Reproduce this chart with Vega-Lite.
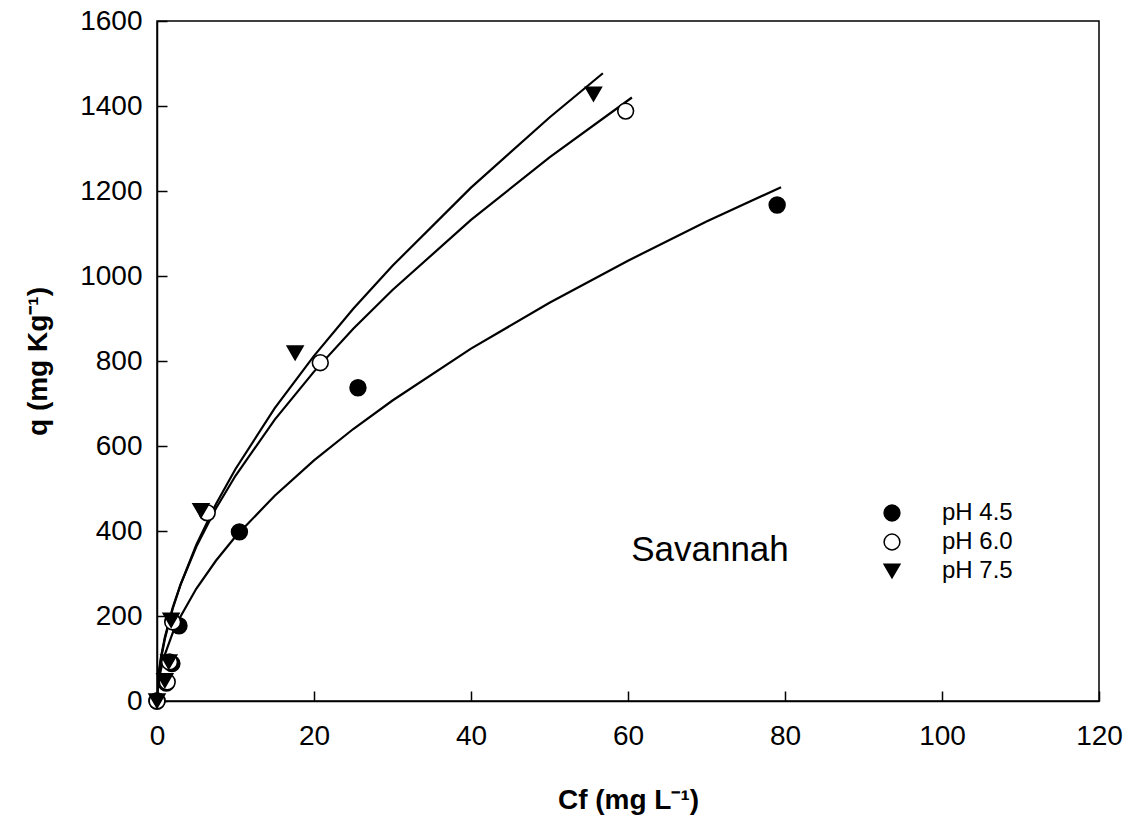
{
  "$schema": "https://vega.github.io/schema/vega-lite/v6.json",
  "width": 942,
  "height": 680,
  "autosize": "none",
  "padding": {"left": 157, "top": 21, "right": 30, "bottom": 122},
  "background": "white",
  "datasets": {
    "points": [
      {"C": 0, "q": 0, "pH": "pH 4.5"},
      {"C": 1.2, "q": 42, "pH": "pH 4.5"},
      {"C": 1.9, "q": 88, "pH": "pH 4.5"},
      {"C": 2.8, "q": 177, "pH": "pH 4.5"},
      {"C": 10.5, "q": 398, "pH": "pH 4.5"},
      {"C": 25.6, "q": 737, "pH": "pH 4.5"},
      {"C": 79.0, "q": 1167, "pH": "pH 4.5"},
      {"C": 0, "q": 0, "pH": "pH 6.0"},
      {"C": 1.3, "q": 45, "pH": "pH 6.0"},
      {"C": 1.6, "q": 92, "pH": "pH 6.0"},
      {"C": 2.0, "q": 186, "pH": "pH 6.0"},
      {"C": 6.4, "q": 443, "pH": "pH 6.0"},
      {"C": 20.8, "q": 796, "pH": "pH 6.0"},
      {"C": 59.7, "q": 1388, "pH": "pH 6.0"},
      {"C": 0, "q": 0, "pH": "pH 7.5"},
      {"C": 1.0, "q": 48, "pH": "pH 7.5"},
      {"C": 1.5, "q": 92, "pH": "pH 7.5"},
      {"C": 1.8, "q": 190, "pH": "pH 7.5"},
      {"C": 5.6, "q": 448, "pH": "pH 7.5"},
      {"C": 17.6, "q": 819, "pH": "pH 7.5"},
      {"C": 55.6, "q": 1428, "pH": "pH 7.5"}
    ],
    "curves": [
      {"C": 0, "q": 0, "pH": "pH 4.5"},
      {"C": 0.1, "q": 31, "pH": "pH 4.5"},
      {"C": 0.25, "q": 51, "pH": "pH 4.5"},
      {"C": 0.5, "q": 74, "pH": "pH 4.5"},
      {"C": 1, "q": 109, "pH": "pH 4.5"},
      {"C": 2, "q": 160, "pH": "pH 4.5"},
      {"C": 3, "q": 199, "pH": "pH 4.5"},
      {"C": 5, "q": 264, "pH": "pH 4.5"},
      {"C": 7.5, "q": 330, "pH": "pH 4.5"},
      {"C": 10, "q": 387, "pH": "pH 4.5"},
      {"C": 15, "q": 483, "pH": "pH 4.5"},
      {"C": 20, "q": 566, "pH": "pH 4.5"},
      {"C": 25, "q": 640, "pH": "pH 4.5"},
      {"C": 30, "q": 707, "pH": "pH 4.5"},
      {"C": 40, "q": 829, "pH": "pH 4.5"},
      {"C": 50, "q": 937, "pH": "pH 4.5"},
      {"C": 60, "q": 1036, "pH": "pH 4.5"},
      {"C": 70, "q": 1128, "pH": "pH 4.5"},
      {"C": 79.5, "q": 1209, "pH": "pH 4.5"},
      {"C": 0, "q": 0, "pH": "pH 6.0"},
      {"C": 0.1, "q": 43, "pH": "pH 6.0"},
      {"C": 0.25, "q": 70, "pH": "pH 6.0"},
      {"C": 0.5, "q": 103, "pH": "pH 6.0"},
      {"C": 1, "q": 150, "pH": "pH 6.0"},
      {"C": 2, "q": 220, "pH": "pH 6.0"},
      {"C": 3, "q": 274, "pH": "pH 6.0"},
      {"C": 5, "q": 363, "pH": "pH 6.0"},
      {"C": 7.5, "q": 453, "pH": "pH 6.0"},
      {"C": 10, "q": 530, "pH": "pH 6.0"},
      {"C": 15, "q": 662, "pH": "pH 6.0"},
      {"C": 20, "q": 775, "pH": "pH 6.0"},
      {"C": 25, "q": 876, "pH": "pH 6.0"},
      {"C": 30, "q": 967, "pH": "pH 6.0"},
      {"C": 40, "q": 1132, "pH": "pH 6.0"},
      {"C": 50, "q": 1279, "pH": "pH 6.0"},
      {"C": 60.5, "q": 1420, "pH": "pH 6.0"},
      {"C": 0, "q": 0, "pH": "pH 7.5"},
      {"C": 0.1, "q": 39, "pH": "pH 7.5"},
      {"C": 0.25, "q": 66, "pH": "pH 7.5"},
      {"C": 0.5, "q": 98, "pH": "pH 7.5"},
      {"C": 1, "q": 146, "pH": "pH 7.5"},
      {"C": 2, "q": 217, "pH": "pH 7.5"},
      {"C": 3, "q": 274, "pH": "pH 7.5"},
      {"C": 5, "q": 367, "pH": "pH 7.5"},
      {"C": 7.5, "q": 463, "pH": "pH 7.5"},
      {"C": 10, "q": 546, "pH": "pH 7.5"},
      {"C": 15, "q": 689, "pH": "pH 7.5"},
      {"C": 20, "q": 812, "pH": "pH 7.5"},
      {"C": 25, "q": 923, "pH": "pH 7.5"},
      {"C": 30, "q": 1024, "pH": "pH 7.5"},
      {"C": 40, "q": 1208, "pH": "pH 7.5"},
      {"C": 50, "q": 1373, "pH": "pH 7.5"},
      {"C": 56.8, "q": 1477, "pH": "pH 7.5"}
    ],
    "labels": [
      {"C": 60.4, "q": 355, "label": "Savannah"}
    ]
  },
  "encoding": {
    "x": {
      "field": "C",
      "type": "quantitative",
      "scale": {"domain": [0, 120], "nice": false, "zero": false},
      "axis": {
        "title": "Cf (mg L⁻¹)",
        "values": [0, 20, 40, 60, 80, 100, 120],
        "format": "d",
        "grid": false,
        "tickSize": -10,
        "labelPadding": 31,
        "titlePadding": 36
      }
    },
    "y": {
      "field": "q",
      "type": "quantitative",
      "scale": {"domain": [0, 1600], "nice": false, "zero": false},
      "axis": {
        "title": "q (mg Kg⁻¹)",
        "values": [0, 200, 400, 600, 800, 1000, 1200, 1400, 1600],
        "format": "d",
        "grid": false,
        "tickSize": -10,
        "labelPadding": 25,
        "titlePadding": 27
      }
    }
  },
  "layer": [
    {
      "data": {"name": "curves"},
      "mark": {"type": "line", "color": "black", "strokeWidth": 2.2, "clip": true},
      "encoding": {
        "detail": {"field": "pH", "type": "nominal"},
        "order": {"field": "C", "type": "quantitative"}
      }
    },
    {
      "data": {"name": "points"},
      "mark": {"type": "point", "strokeWidth": 1.6, "size": 250, "opacity": 1, "clip": false},
      "encoding": {
        "stroke": {"value": "black"},
        "shape": {
          "field": "pH",
          "type": "nominal",
          "scale": {"domain": ["pH 4.5", "pH 6.0", "pH 7.5"], "range": ["circle", "circle", "triangle-down"]},
          "legend": {
            "title": null,
            "orient": "none",
            "legendX": 723,
            "legendY": 480,
            "labelFontSize": 24,
            "labelOffset": 38,
            "rowPadding": 5,
            "symbolSize": 250,
            "encode": {"symbols": {"update": {"stroke": {"value": "black"}, "strokeWidth": {"value": 1.6}}}}
          }
        },
        "fill": {
          "field": "pH",
          "type": "nominal",
          "scale": {"domain": ["pH 4.5", "pH 6.0", "pH 7.5"], "range": ["black", "white", "black"]},
          "legend": {
            "title": null,
            "orient": "none",
            "legendX": 723,
            "legendY": 480,
            "labelFontSize": 24,
            "labelOffset": 38,
            "rowPadding": 5,
            "symbolSize": 250,
            "encode": {"symbols": {"update": {"stroke": {"value": "black"}, "strokeWidth": {"value": 1.6}}}}
          }
        }
      }
    },
    {
      "data": {"name": "labels"},
      "mark": {"type": "text", "align": "left", "baseline": "middle", "fontSize": 35, "color": "black"},
      "encoding": {
        "text": {"field": "label", "type": "nominal"}
      }
    }
  ],
  "config": {
    "font": "Liberation Sans",
    "view": {"stroke": "black", "strokeWidth": 1.5},
    "axis": {
      "domainColor": "black",
      "domainWidth": 1.5,
      "tickColor": "black",
      "tickWidth": 1.5,
      "labelColor": "black",
      "labelFontSize": 28,
      "labelFont": "Liberation Sans",
      "titleFont": "Liberation Sans",
      "titleFontSize": 28,
      "titleFontWeight": "bold",
      "titleColor": "black",
      "labelFlush": false
    },
    "legend": {"labelFont": "Liberation Sans", "labelColor": "black"}
  }
}
